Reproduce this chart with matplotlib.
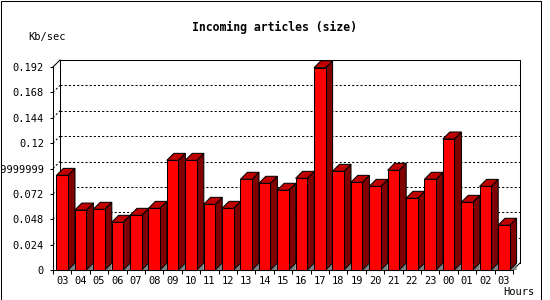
import matplotlib
matplotlib.use("Agg")
import matplotlib.pyplot as plt
from matplotlib.patches import Polygon, Rectangle
import numpy as np

# data
hours = ["03", "04", "05", "06", "07", "08", "09", "10", "11", "12", "13", "14", "15",
         "16", "17", "18", "19", "20", "21", "22", "23", "00", "01", "02", "03"]
kb_per_sec = [0.0895, 0.0567, 0.0574, 0.0451, 0.0517, 0.0583, 0.1037, 0.1037, 0.0621,
              0.0583, 0.0858, 0.0820, 0.0754, 0.0867, 0.1913, 0.0933, 0.0829, 0.0791,
              0.0943, 0.0678, 0.0858, 0.1239, 0.0640, 0.0791, 0.0423]
y_ticks = [0, 0.024, 0.048, 0.072, 0.096, 0.12, 0.144, 0.168, 0.192]
y_tick_labels = ["0", "0.024", "0.048", "0.072", "0.0959999999", "0.12", "0.144", "0.168", "0.192"]

W, H = 550, 300
fig = plt.figure(figsize=(5.5, 3), dpi=100)
fig.patch.set_facecolor("white")
mono = "DejaVu Sans Mono"

# front plane of the plot in pixels
left, right, bottom, top = 53, 513, 270, 67
ax = fig.add_axes([left / W, 1 - bottom / H, (right - left) / W, (bottom - top) / H])
ax.set_xlim(-0.5, len(hours) - 0.5)
ax.set_ylim(0, 0.192)
ax.set_facecolor("none")

# 3d depth, 7 px converted into data units
depth_px = 7
dx = depth_px * (len(hours)) / (right - left)
dy = depth_px * 0.192 / (bottom - top)
x0, x1 = -0.5, len(hours) - 0.5
lw = 0.75

# back wall + grid
ax.plot([x0 + dx, x1 + dx, x1 + dx], [0.192 + dy, 0.192 + dy, dy], color="black", lw=lw, clip_on=False, zorder=1)
ax.plot([x0 + dx, x0 + dx], [dy, 0.192 + dy], color="black", lw=lw, clip_on=False, zorder=1)
ax.plot([x0, x0 + dx], [0.192, 0.192 + dy], color="black", lw=lw, clip_on=False, zorder=1)
ax.plot([x1, x1 + dx], [0, dy], color="black", lw=lw, clip_on=False, zorder=1)
for t in y_ticks[1:-1]:
    ax.plot([x0 + dx, x1 + dx], [t + dy, t + dy], color="black", lw=lw, dashes=(2, 2), clip_on=False, zorder=1)
    ax.plot([x0, x0 + dx], [t, t + dy], color="black", lw=lw, dashes=(2, 2), clip_on=False, zorder=1)

# bars
bw = 0.63
for i, v in enumerate(kb_per_sec):
    xl, xr = i - bw / 2, i + bw / 2
    z = 3 + i * 0.01
    ax.add_patch(Polygon([(xr, 0), (xr + dx, dy), (xr + dx, 0)], closed=True,
                         facecolor="#808080", edgecolor="none", clip_on=False, zorder=z))
    ax.add_patch(Polygon([(xr, 0), (xr, v), (xr + dx, v + dy), (xr + dx, dy)], closed=True,
                         facecolor="#800000", edgecolor="black", lw=lw, clip_on=False, zorder=z))
    ax.add_patch(Polygon([(xl, v), (xr, v), (xr + dx, v + dy), (xl + dx, v + dy)], closed=True,
                         facecolor="#c00000", edgecolor="black", lw=lw, clip_on=False, zorder=z))
ax.bar(range(len(hours)), kb_per_sec, width=bw, color="#ff0000", edgecolor="black",
       linewidth=lw, zorder=4, clip_on=False)

# axes
for s in ["top", "right"]:
    ax.spines[s].set_visible(False)
for s in ["left", "bottom"]:
    ax.spines[s].set_linewidth(lw)
    ax.spines[s].set_zorder(5)
ax.set_yticks(y_ticks)
ax.set_yticklabels(y_tick_labels, fontsize=7.5, family=mono)
ax.tick_params(axis="y", length=2.5, width=lw, pad=4)
ax.set_xticks(range(len(hours)))
ax.set_xticklabels(hours, fontsize=7.5, family=mono)
ax.set_xticks(np.arange(len(hours) + 1) - 0.5, minor=True)
ax.tick_params(axis="x", which="major", length=0, pad=4)
ax.tick_params(axis="x", which="minor", length=3, width=lw)

fig.text(274 / W, 1 - 27 / H, "Incoming articles (size)", ha="center", va="center",
         fontsize=8.3, family=mono, fontweight="bold")
fig.text(47 / W, 1 - 37 / H, "Kb/sec", ha="center", va="center", fontsize=7.5, family=mono)
fig.text(519 / W, 1 - 292 / H, "Hours", ha="center", va="center", fontsize=7.5, family=mono)

fig.add_artist(Rectangle((0.5 / W, 0.5 / H), 540.5 / W, 298.5 / H, transform=fig.transFigure,
                         fill=False, edgecolor="black", lw=lw))

fig.savefig("out.png", dpi=100)
